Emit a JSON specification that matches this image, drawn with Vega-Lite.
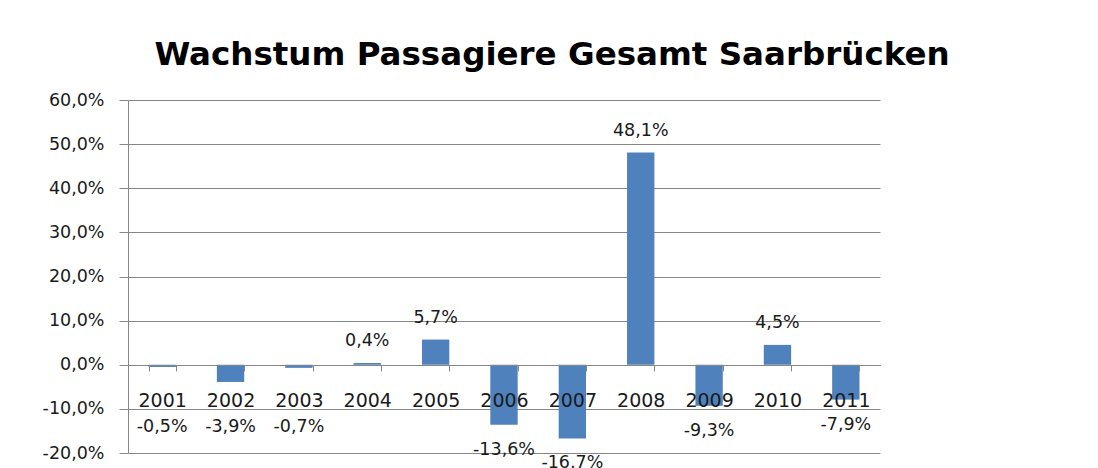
{
  "$schema": "https://vega.github.io/schema/vega-lite/v6.json",
  "width": 752,
  "height": 353,
  "autosize": {"type": "none"},
  "padding": {"left": 128, "top": 100, "right": 218, "bottom": 15},
  "background": "white",
  "title": {
    "text": "Wachstum Passagiere Gesamt Saarbrücken",
    "font": "DejaVu Sans",
    "fontSize": 32.5,
    "fontWeight": "bold",
    "color": "#000000",
    "anchor": "middle",
    "dx": 48,
    "offset": 20
  },
  "config": {
    "locale": {"number": {"decimal": ",", "thousands": ".", "grouping": [3], "currency": ["", " €"], "minus": "-"}},
    "view": {"stroke": null},
    "font": "DejaVu Sans"
  },
  "data": {
    "values": [
      {"Jahr": "2001", "Wachstum": -0.005},
      {"Jahr": "2002", "Wachstum": -0.039},
      {"Jahr": "2003", "Wachstum": -0.007},
      {"Jahr": "2004", "Wachstum": 0.004},
      {"Jahr": "2005", "Wachstum": 0.057},
      {"Jahr": "2006", "Wachstum": -0.136},
      {"Jahr": "2007", "Wachstum": -0.167},
      {"Jahr": "2008", "Wachstum": 0.481},
      {"Jahr": "2009", "Wachstum": -0.093},
      {"Jahr": "2010", "Wachstum": 0.045},
      {"Jahr": "2011", "Wachstum": -0.079}
    ]
  },
  "encoding": {
    "x": {
      "field": "Jahr",
      "type": "nominal",
      "scale": {"paddingInner": 0.6, "paddingOuter": 0.3},
      "axis": {
        "orient": "bottom",
        "offset": -88,
        "title": null,
        "labelAngle": 0,
        "domainColor": "#868686",
        "tickColor": "#868686",
        "tickBand": "extent",
        "tickSize": 6,
        "labelPadding": 20,
        "labelFontSize": 19,
        "labelColor": "#1a1a1a",
        "zindex": 1,
        "grid": false
      }
    },
    "y": {
      "field": "Wachstum",
      "type": "quantitative",
      "scale": {"domain": [-0.2, 0.6], "nice": false},
      "axis": {
        "title": null,
        "format": ".1%",
        "values": [-0.2, -0.1, 0, 0.1, 0.2, 0.3, 0.4, 0.5, 0.6],
        "grid": true,
        "gridColor": "#868686",
        "domainColor": "#868686",
        "tickColor": "#868686",
        "tickSize": 9,
        "labelPadding": 15,
        "labelFontSize": 17.5,
        "labelColor": "#1a1a1a",
        "zindex": 0
      }
    }
  },
  "layer": [
    {"mark": {"type": "bar", "color": "#4F81BD"}},
    {
      "transform": [{"filter": "datum.Wachstum >= 0"}],
      "mark": {"type": "text", "dy": -22, "fontSize": 17.5, "color": "#1a1a1a"},
      "encoding": {"text": {"field": "Wachstum", "type": "quantitative", "format": ".1%"}}
    },
    {
      "transform": [{"filter": "datum.Wachstum < -0.05"}],
      "mark": {"type": "text", "dy": 25, "fontSize": 17.5, "color": "#1a1a1a"},
      "encoding": {"text": {"field": "Wachstum", "type": "quantitative", "format": ".1%"}}
    },
    {
      "transform": [{"filter": "datum.Wachstum < 0 && datum.Wachstum >= -0.05"}],
      "mark": {"type": "text", "fontSize": 17.5, "color": "#1a1a1a"},
      "encoding": {
        "y": {"datum": -0.14},
        "text": {"field": "Wachstum", "type": "quantitative", "format": ".1%"}
      }
    }
  ]
}
